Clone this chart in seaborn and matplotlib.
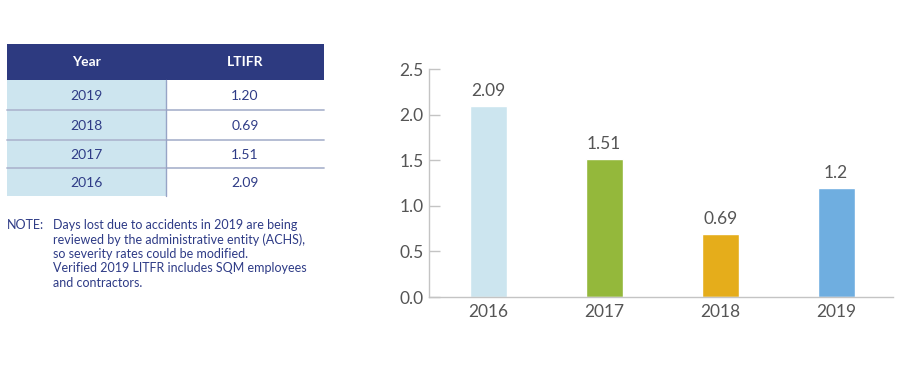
import matplotlib
matplotlib.use("Agg")
import matplotlib.pyplot as plt
from matplotlib.patches import Rectangle
import seaborn as sns
import pandas as pd

# ---- data ----
years = ["2016", "2017", "2018", "2019"]
ltifr = [2.09, 1.51, 0.69, 1.20]
bar_colors = ["#CCE5EF", "#94B83B", "#E5AD1B", "#6FAEE0"]

table_header = ["Year", "LTIFR"]
table_years = ["2019", "2018", "2017", "2016"]
table_values = ["1.20", "0.69", "1.51", "2.09"]

note_label = "NOTE:"
note_lines = [
    "Days lost due to accidents in 2019 are being",
    "reviewed by the administrative entity (ACHS),",
    "so severity rates could be modified.",
    "Verified 2019 LITFR includes SQM employees",
    "and contractors.",
]

yticks = [0.0, 0.5, 1.0, 1.5, 2.0, 2.5]

sns.set_theme(style="white")
plt.rcParams["font.family"] = ["Lato", "DejaVu Sans"]

W, H = 900, 370
fig = plt.figure(figsize=(W / 100, H / 100), dpi=100)

# ---- bar chart ----
ax = fig.add_axes([429 / W, 1 - 297 / H, (893 - 429) / W, (297 - 69) / H])
df = pd.DataFrame({"year": years, "ltifr": ltifr})
sns.barplot(data=df, x="year", y="ltifr", hue="year", palette=bar_colors,
            legend=False, width=0.32, ax=ax, saturation=1)
for c in ax.containers:
    ax.bar_label(c, fmt="%g", padding=5, fontsize=12.5, color="#555555")
ax.set_xlim(-0.51, 3.49)
ax.set_ylim(0, 2.5)
ax.set_yticks(yticks)
ax.set_yticklabels([f"{v:.1f}" for v in yticks])
ax.set_xlabel("")
ax.set_ylabel("")
for s in ["top", "right"]:
    ax.spines[s].set_visible(False)
for s in ["left", "bottom"]:
    ax.spines[s].set_color("#C4C4C4")
    ax.spines[s].set_linewidth(1.0)
ax.tick_params(axis="y", direction="in", length=8, width=1, color="#C4C4C4",
               labelsize=12.5, labelcolor="#555555", pad=4, left=True)
ax.tick_params(axis="x", length=0, labelsize=12.5, labelcolor="#555555", pad=5)

# ---- table & note ----
at = fig.add_axes([0, 0, 1, 1])
at.set_xlim(0, W)
at.set_ylim(H, 0)
at.axis("off")
at.patch.set_alpha(0)

navy = "#2D3A80"
txt_navy = "#2E3B86"
x0, xm, x1 = 7, 166, 324
hy0, hy1 = 44, 80
row_edges = [80, 110, 140, 168, 196]

at.add_patch(Rectangle((x0, hy0), x1 - x0, hy1 - hy0, color=navy, lw=0))
at.text((x0 + xm) / 2, (hy0 + hy1) / 2, table_header[0], color="white",
        fontsize=10, fontweight="bold", ha="center", va="center")
at.text((xm + x1) / 2, (hy0 + hy1) / 2, table_header[1], color="white",
        fontsize=10, fontweight="bold", ha="center", va="center")
for i, (yr, val) in enumerate(zip(table_years, table_values)):
    ya, yb = row_edges[i], row_edges[i + 1]
    at.add_patch(Rectangle((x0, ya), xm - x0, yb - ya, color="#CDE5EF", lw=0))
    at.text((x0 + xm) / 2, (ya + yb) / 2 + 1, yr, color=txt_navy,
            fontsize=10, ha="center", va="center")
    at.text((xm + x1) / 2, (ya + yb) / 2 + 1, val, color=txt_navy,
            fontsize=10, ha="center", va="center")
    if i > 0:
        at.plot([x0, x1], [ya, ya], color="#AFB8D0", lw=1.3)
at.plot([xm, xm], [hy1, row_edges[-1]], color="#97A4C6", lw=1.0)

at.text(x0, 225, note_label, color=txt_navy, fontsize=9, va="center", ha="left")
for j, line in enumerate(note_lines):
    at.text(53, 225 + j * 14.5, line, color=txt_navy, fontsize=9,
            va="center", ha="left")

fig.savefig("out.png", dpi=100)
